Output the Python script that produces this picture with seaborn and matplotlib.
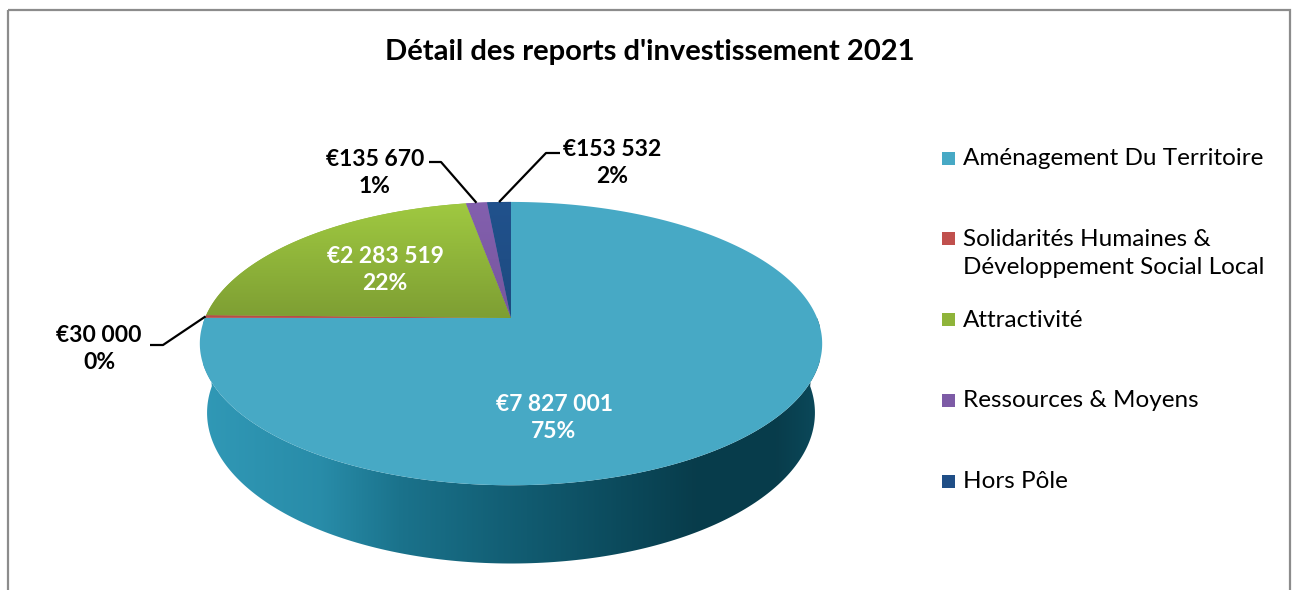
import colorsys
import textwrap
import numpy as np
import matplotlib
matplotlib.use("Agg")
import matplotlib.pyplot as plt
from matplotlib.patches import Polygon, Rectangle
import matplotlib.colors as mcolors
import seaborn as sns

# data
title = "Détail des reports d'investissement 2021"
categories = [
    "Aménagement Du Territoire",
    "Solidarités Humaines & Développement Social Local",
    "Attractivité",
    "Ressources & Moyens",
    "Hors Pôle",
]
amounts = [7827001, 30000, 2283519, 135670, 153532]
colors = ["#47A9C5", "#C0504D", "#8FB43A", "#7D5BA6", "#1F4E86"]
# how much lighter the far edge of each top face is (style only)
gloss = [0.0, 0.05, 0.12, 0.05, 0.05]

sns.set_theme(style="white")
plt.rcParams["font.family"] = ["Lato", "DejaVu Sans"]
plt.rcParams["text.color"] = "black"
palette = sns.color_palette(colors)

W, H = 1293, 590
fig = plt.figure(figsize=(W / 100, H / 100), dpi=100)
ax = fig.add_axes([0, 0, 1, 1])
ax.set_xlim(0, W)
ax.set_ylim(H, 0)
ax.axis("off")

# chart frame
ax.add_patch(Rectangle((8, 10), 1282, 600, fill=False, edgecolor="#8c8c8c", lw=1.6))

# simple perspective projection of a tilted disc
CX, CY = 511, 318
ELEV = np.radians(26.6)
DIST = 4.95
FOC = 1515
THICK = 0.255


def project(theta, h=0.0):
    x, y = np.cos(theta), np.sin(theta)
    v = y * np.sin(ELEV) + h * np.cos(ELEV)
    w = DIST + y * np.cos(ELEV) - h * np.sin(ELEV)
    return CX + FOC * x / w, CY - FOC * v / w


def darken(c, f):
    h, l, s = colorsys.rgb_to_hls(*mcolors.to_rgb(c))
    return colorsys.hls_to_rgb(h, min(1, l * f), min(1, s * (1 + 0.8 * max(0, 1 - f))))


def lighten(c, g):
    rgb = np.array(mcolors.to_rgb(c))
    return np.clip(rgb * (1 + g), 0, 1)


vals = np.array(amounts, dtype=float)
frac = vals / vals.sum()
# largest remainder rounding, like the spreadsheet labels
raw = frac * 100
pct = np.floor(raw).astype(int)
for i in np.argsort(-(raw - pct))[: 100 - pct.sum()]:
    pct[i] += 1

ends = np.pi / 2 - 2 * np.pi * np.cumsum(frac)
starts = np.concatenate([[np.pi / 2], ends[:-1]])

# side walls (front half only: angles between -pi and 0)
side_profile = [(0.0, 0.86), (0.19, 0.78), (0.32, 0.62), (0.48, 0.51), (0.64, 0.41),
                (0.8, 0.31), (0.93, 0.31), (1.0, 0.38)]
for a1, a2, col in zip(starts, ends, palette):
    b1, b2 = min(a1, 0.0), max(a2, -np.pi)
    if b1 <= b2:
        continue
    t = np.linspace(b1, b2, 200)
    tx, ty = project(t)
    bx, by = project(t[::-1], -THICK)
    poly = Polygon(np.column_stack([np.r_[tx, bx], np.r_[ty, by]]), closed=True,
                   facecolor="none", edgecolor="none")
    ax.add_patch(poly)
    xs = np.linspace(0, 1, 400)
    fac = np.interp(xs, [p[0] for p in side_profile], [p[1] for p in side_profile])
    img = np.array([[darken(col, f) for f in fac]])
    x0, x1 = project(np.pi)[0] - 2, project(0.0)[0] + 2
    im = ax.imshow(img, extent=(x0, x1, max(by) + 2, min(ty) - 2), aspect="auto",
                   interpolation="bilinear", zorder=1)
    im.set_clip_path(poly)

# top faces
top_y0 = project(np.pi / 2)[1]
for a1, a2, col, g in zip(starts, ends, palette, gloss):
    t = np.linspace(a1, a2, max(3, int(abs(a1 - a2) * 80)))
    rx, ry = project(t)
    pts = np.column_stack([np.r_[CX, rx], np.r_[CY, ry]])
    poly = Polygon(pts, closed=True, facecolor=col, edgecolor="none", zorder=2)
    ax.add_patch(poly)
    if g > 0:
        ys = np.linspace(0, 1, 100)
        img = np.array([[lighten(col, g * (1 - 2 * yy))] for yy in ys])
        im = ax.imshow(img, extent=(CX - 330, CX + 330, CY, top_y0), aspect="auto",
                       interpolation="bilinear", zorder=3)
        im.set_clip_path(poly)

# data labels
lab_font = dict(fontsize=16.5, fontweight="bold", ha="center", va="center",
                linespacing=1.3, zorder=5)
label_pos = [(554, 418, "white"), (99, 349, "black"), (385, 270, "white"),
             (375, 173, "black"), (612, 163, "black")]
elbows = {1: [(150, 345), (163, 345)], 3: [(429, 162), (441, 162)], 4: [(560, 153), (546, 153)]}
for i, (v, p) in enumerate(zip(amounts, pct)):
    x, y, c = label_pos[i]
    txt = "€" + f"{v:,}".replace(",", " ") + f"\n{p}%"
    ax.text(x, y, txt, color=c, **lab_font)
    if i in elbows:
        mid = (starts[i] + ends[i]) / 2
        axp, ayp = project(mid)
        (ex0, ey0), (ex1, ey1) = elbows[i]
        ax.plot([ex0, ex1, axp], [ey0, ey1, ayp], color="black", lw=1.6,
                solid_capstyle="butt", zorder=4)

# title
ax.text(650, 52, title, fontsize=21, fontweight="bold", ha="center", va="center")

# legend
for i, (name, col) in enumerate(zip(categories, palette)):
    y = 158 + i * 80.8
    ax.add_patch(Rectangle((942, y - 6.5), 13, 13, facecolor=col, edgecolor="none"))
    ax.text(963, y - 10, textwrap.fill(name, 26), fontsize=17.5, ha="left", va="top",
            linespacing=1.4)

fig.savefig("out.png", dpi=100)
